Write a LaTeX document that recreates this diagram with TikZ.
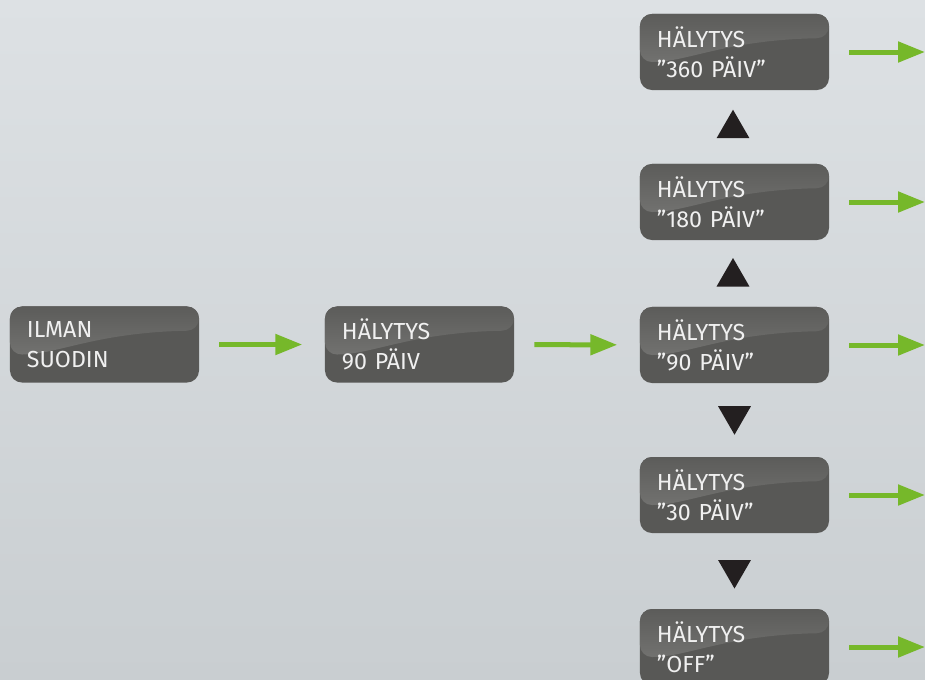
\documentclass[tikz,border=0pt]{standalone}
\usepackage{fontspec}
\setmainfont{Fira Sans}
\usepackage{tikz}
\usetikzlibrary{arrows.meta,positioning,calc,shapes.geometric}
\definecolor{bgtop}{HTML}{DDE1E4}
\definecolor{bgbot}{HTML}{C9CED1}
\definecolor{boxdark}{HTML}{585856}
\definecolor{glosstop}{HTML}{5C5C5A}
\definecolor{glossbot}{HTML}{7E7E7C}
\definecolor{arrowgreen}{HTML}{76B82A}
\definecolor{tridark}{HTML}{231F20}
\tikzset{panel/.style={rounded corners=0.3cm,fill=boxdark,minimum width=4.725cm,minimum height=1.9cm,
    text width=3.875cm,inner xsep=0.425cm,align=left,text=white!94!black,
    font=\fontsize{16.5pt}{21.3pt}\selectfont,
    path picture={
      \shade[top color=glosstop,bottom color=glossbot]
        (path picture bounding box.north west) -- (path picture bounding box.north east)
        -- ([yshift=-0.6cm]path picture bounding box.north east)
        .. controls ([shift={(-2.6cm,-0.65cm)}]path picture bounding box.north east)
        and ([shift={(1.2cm,-1.2cm)}]path picture bounding box.north west)
        .. ([yshift=-1.2cm]path picture bounding box.north west) -- cycle;}}}

\begin{document}
\begin{tikzpicture}[x=0.025cm,y=-0.025cm]
\tikzstyle{flow}=[draw=arrowgreen,line width=0.125cm,-{Triangle[length=0.675cm,width=0.5cm]},
    shorten <=0.5cm,shorten >=0.56cm]
\tikzstyle{tri}=[regular polygon,regular polygon sides=3,fill=tridark,inner sep=0pt,minimum size=0.95cm]
    \clip (0,0) rectangle (925,679);
    \shade[top color=bgtop,bottom color=bgbot] (0,0) rectangle (925,679);

    \node[panel] (ilman) at (104.5,344.5) {ILMAN\\SUODIN};
    \node[panel] (h90) at (419.5,344.5) {HÄLYTYS\\90 PÄIV};
    \node[panel] (s360) at (734.5,52) {HÄLYTYS\\"360 PÄIV"};
    \node[panel] (s180) at (734.5,202) {HÄLYTYS\\"180 PÄIV"};
    \node[panel] (s90) at (734.5,345) {HÄLYTYS\\"90 PÄIV"};
    \node[panel] (s30) at (734.5,495) {HÄLYTYS\\"30 PÄIV"};
    \node[panel] (soff) at (734.5,647) {HÄLYTYS\\"OFF"};

    \node[tri] (up1) at (733,128.7) {};
    \node[tri] (up2) at (733,277) {};
    \node[tri,shape border rotate=180] (dn1) at (734.5,415.7) {};
    \node[tri,shape border rotate=180] (dn2) at (734.5,569.5) {};

    \coordinate (rim) at (925,0);
    \path (ilman) edge[flow] (h90);
    \path (h90) edge[flow] (s90);
    \path (s360.east) edge[flow,shorten >=0pt] (s360.east -| rim);
    \path (s180.east) edge[flow,shorten >=0pt] (s180.east -| rim);
    \path (s90.east) edge[flow,shorten >=0pt] (s90.east -| rim);
    \path (s30.east) edge[flow,shorten >=0pt] (s30.east -| rim);
    \path (soff.east) edge[flow,shorten >=0pt] (soff.east -| rim);
\end{tikzpicture}
\end{document}
